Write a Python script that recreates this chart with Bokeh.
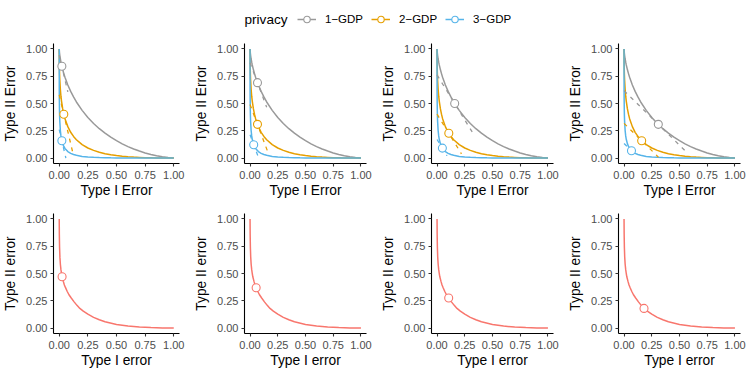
from bokeh.plotting import figure
from bokeh.models import Range1d, FixedTicker, NumeralTickFormatter, Legend, LegendItem, Label
from bokeh.layouts import column, row
from bokeh.embed import file_html
from bokeh.resources import INLINE

FONT = "Liberation Sans"
NAN = float("nan")

# ---------------- data ----------------
tick_vals = [0.0, 0.25, 0.5, 0.75, 1.0]
legend_title = "privacy"
privacy_labels = ["1\u2212GDP", "2\u2212GDP", "3\u2212GDP"]
privacy_colors = ["#999999", "#E69F00", "#56B4E9"]

# trade-off curves (type I error -> type II error)
gdp_alpha = [0.0, 0.0001, 0.0005, 0.001, 0.002, 0.003, 0.005, 0.01, 0.015, 0.02, 0.03, 0.04, 0.05,
             0.075, 0.1, 0.125, 0.15, 0.2, 0.25, 0.3, 0.35, 0.4, 0.45, 0.5, 0.55, 0.6, 0.65,
             0.7, 0.75, 0.8, 0.85, 0.9, 0.95, 1.0]
gdp1_beta = [1.0, 0.997, 0.989, 0.982, 0.970, 0.960, 0.942, 0.908, 0.879, 0.854, 0.811, 0.774, 0.740,
             0.670, 0.611, 0.560, 0.514, 0.437, 0.372, 0.317, 0.269, 0.228, 0.191, 0.159, 0.130, 0.105, 0.083,
             0.064, 0.047, 0.033, 0.021, 0.011, 0.004, 0.0]
gdp2_beta = [1.0, 0.957, 0.901, 0.862, 0.810, 0.773, 0.718, 0.628, 0.567, 0.522, 0.453, 0.402, 0.361,
             0.288, 0.236, 0.198, 0.168, 0.123, 0.092, 0.070, 0.053, 0.040, 0.030, 0.023, 0.017, 0.012, 0.0085,
             0.006, 0.0037, 0.003, 0.0012, 0.001, 0.0003, 0.0]
gdp3_beta = [1.0, 0.764, 0.614, 0.536, 0.451, 0.400, 0.336, 0.250, 0.203, 0.172, 0.132, 0.106, 0.088,
             0.059, 0.043, 0.032, 0.025, 0.015, 0.010, 0.007, 0.0045, 0.003, 0.0016, 0.0013, 0.0008, 0.0005, 0.0003,
             0.0002, 0.0001, 0.0001, 0.0, 0.0, 0.0, 0.0]

# highlighted points, one per column (top row)
pt1_x = [0.023, 0.067, 0.159, 0.309]
pt1_y = [0.841, 0.691, 0.500, 0.309]
pt2_x = [0.040, 0.067, 0.106, 0.159]
pt2_y = [0.401, 0.309, 0.227, 0.159]
pt3_x = [0.023, 0.033, 0.048, 0.067]
pt3_y = [0.159, 0.122, 0.091, 0.067]

# dashed supporting lines (start at type I error 0), one per column
seg1_y0 = [0.943, 0.873, 0.762, 0.618]
seg1_x1 = [0.075, 0.150, 0.320, 0.560]
seg1_y1 = [0.607, 0.465, 0.234, 0.058]
seg2_y0 = [0.580, 0.491, 0.402, 0.318]
seg2_x1 = [0.125, 0.165, 0.220, 0.310]
seg2_y1 = [0.020, 0.043, 0.039, 0.008]
seg3_y0 = [0.261, 0.213, 0.170, 0.134]
seg3_x1 = [0.058, 0.075, 0.090, 0.100]
seg3_y1 = [0.000, 0.009, 0.021, 0.034]

# bottom row curve and points
red_alpha = [0.0, 0.001, 0.003, 0.006, 0.01, 0.015, 0.02, 0.025, 0.035, 0.045, 0.055, 0.07, 0.085,
             0.105, 0.13, 0.155, 0.18, 0.21, 0.25, 0.3, 0.35, 0.4, 0.5, 0.6, 0.7, 0.8, 0.9, 1.0]
red_beta = [1.0, 0.86, 0.74, 0.65, 0.585, 0.535, 0.50, 0.47, 0.43, 0.395, 0.37, 0.335, 0.305,
            0.275, 0.24, 0.208, 0.18, 0.155, 0.127, 0.098, 0.076, 0.058, 0.033, 0.018, 0.009, 0.004, 0.0015, 0.0]
red_pt_x = [0.025, 0.055, 0.105, 0.18]
red_pt_y = [0.47, 0.37, 0.275, 0.18]
red_color = "#F8766D"

curves = [gdp1_beta, gdp2_beta, gdp3_beta]
pts_x = [pt1_x, pt2_x, pt3_x]
pts_y = [pt1_y, pt2_y, pt3_y]
segs = [(seg1_y0, seg1_x1, seg1_y1), (seg2_y0, seg2_x1, seg2_y1), (seg3_y0, seg3_x1, seg3_y1)]

# ---------------- layout ----------------
W = 747
widths = [191, 187, 187, 182]
lefts = [53, 49, 49, 49]
rights = [12, 12, 12, 7]
LEG_H = 38


def make_panel(i, height, top, bottom, xlabel, ylabel):
    p = figure(width=widths[i], height=height,
               x_range=Range1d(-0.05, 1.05), y_range=Range1d(-0.05, 1.05),
               output_backend="svg", toolbar_location=None,
               min_border_left=lefts[i], min_border_right=rights[i],
               min_border_top=top, min_border_bottom=bottom)
    p.outline_line_color = None
    p.grid.visible = False
    p.background_fill_color = "white"
    p.border_fill_color = "white"
    for ax in (p.xaxis[0], p.yaxis[0]):
        ax.ticker = FixedTicker(ticks=tick_vals)
        ax.formatter = NumeralTickFormatter(format="0.00")
        ax.axis_line_color = "black"
        ax.axis_line_width = 1.1
        ax.major_tick_line_color = "#333333"
        ax.major_tick_line_width = 1.1
        ax.major_tick_out = 3
        ax.major_tick_in = 0
        ax.minor_tick_line_color = None
        ax.major_label_text_font = FONT
        ax.major_label_text_font_size = "11px"
        ax.major_label_text_color = "#4D4D4D"
        ax.axis_label_text_font = FONT
        ax.axis_label_text_font_size = "13.8px"
        ax.axis_label_text_font_style = "normal"
        ax.axis_label_text_color = "black"
    p.xaxis.axis_label = xlabel
    p.yaxis.axis_label = ylabel
    p.xaxis.major_label_standoff = 4
    p.xaxis.axis_label_standoff = 1
    p.yaxis.major_label_standoff = 3
    p.yaxis.axis_label_standoff = 5
    return p


top_row = []
for i in range(4):
    p = make_panel(i, 169, 5, 44, "Type I Error", "Type II Error")
    for k in range(3):
        p.line(gdp_alpha, curves[k], line_color=privacy_colors[k], line_width=1.5)
    for k in range(3):
        y0, x1, y1 = segs[k]
        p.line([0.0, x1[i]], [y0[i], y1[i]], line_color=privacy_colors[k], line_width=1.3, line_dash="4 5")
    for k in range(3):
        p.scatter([pts_x[k][i]], [pts_y[k][i]], marker="circle", size=8,
                  fill_color="white", line_color=privacy_colors[k], line_width=1.1)
    top_row.append(p)

bottom_row = []
for i in range(4):
    p = make_panel(i, 167, 6, 41, "Type I error", "Type II error")
    p.line(red_alpha, red_beta, line_color=red_color, line_width=1.5)
    p.scatter([red_pt_x[i]], [red_pt_y[i]], marker="circle", size=8,
              fill_color="white", line_color=red_color, line_width=1.1)
    bottom_row.append(p)

# legend strip (coordinates of this strip are pixels)
lg = figure(width=W, height=LEG_H, x_range=Range1d(0, W), y_range=Range1d(0, LEG_H),
            output_backend="svg", toolbar_location=None,
            min_border_left=0, min_border_right=0, min_border_top=0, min_border_bottom=0)
lg.outline_line_color = None
lg.axis.visible = False
lg.grid.visible = False
items = []
for k in range(3):
    lr = lg.line([NAN], [NAN], line_color=privacy_colors[k], line_width=1.5)
    sr = lg.scatter([NAN], [NAN], marker="circle", size=8, fill_color="white",
                    line_color=privacy_colors[k], line_width=1.1)
    items.append(LegendItem(label=privacy_labels[k], renderers=[lr, sr]))
legend = Legend(items=items, orientation="horizontal", location=(297, 11),
                label_text_font=FONT, label_text_font_size="11.5px", label_text_color="black",
                glyph_width=19, glyph_height=16, label_standoff=9, spacing=8,
                padding=0, margin=0, border_line_color=None, background_fill_alpha=0)
lg.add_layout(legend, "center")
lg.add_layout(Label(x=244, y=19, text=legend_title, text_font=FONT, text_font_size="13.6px",
                    text_baseline="middle", text_color="black"))

layout = column(lg, row(*top_row), row(*bottom_row))
open("out.html", "w").write(file_html(layout, INLINE))
